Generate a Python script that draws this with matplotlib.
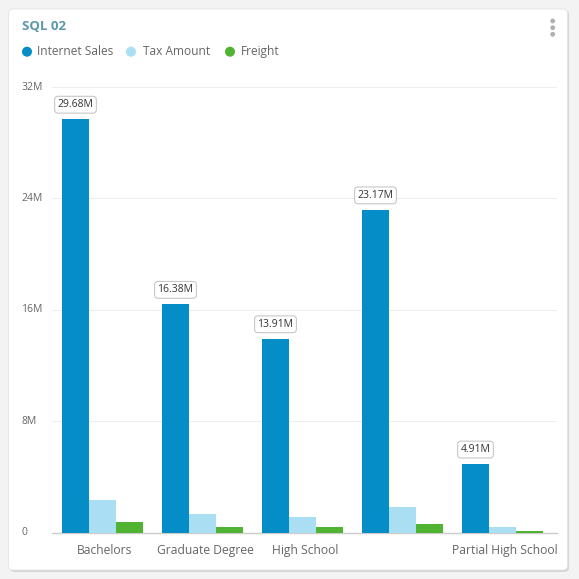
import matplotlib.pyplot as plt
import matplotlib.transforms as mtransforms
from matplotlib.patches import FancyBboxPatch
import numpy as np

plt.rcParams['font.family'] = ['Open Sans', 'DejaVu Sans']

# Data (values in millions)
tick_labels = ["Bachelors", "Graduate Degree", "High School", "", "Partial High School"]
internet_sales = [29.68, 16.38, 13.91, 23.17, 4.91]
tax_amount = [2.37, 1.31, 1.11, 1.85, 0.39]
freight = [0.76, 0.42, 0.36, 0.60, 0.13]
series_names = ["Internet Sales", "Tax Amount", "Freight"]
series_colors = ["#058dc7", "#aadff3", "#50b432"]
y_ticks = [0, 8, 16, 24, 32]
y_tick_labels = ["0", "8M", "16M", "24M", "32M"]

W = H = 579
fig = plt.figure(figsize=(W / 100, H / 100), dpi=100)
fig.patch.set_facecolor("#f3f3f3")


def fx(px):
    return px / W


def fy(py):
    return 1 - py / H


# card with soft shadow
shadow = FancyBboxPatch((fx(10), fy(572)), fx(559), fx(562),
                        boxstyle="round,pad=0,rounding_size=0.008",
                        transform=fig.transFigure, facecolor="#d6d6d6",
                        edgecolor="none", zorder=-2)
card = FancyBboxPatch((fx(8.5), fy(570)), fx(559), fx(561),
                      boxstyle="round,pad=0,rounding_size=0.008",
                      transform=fig.transFigure, facecolor="white",
                      edgecolor="#e4e4e4", linewidth=0.6, zorder=-1)
fig.patches.extend([shadow, card])

# title and menu dots
fig.text(fx(22), fy(27), "SQL 02", color="#5a9aa8", fontsize=9.5,
         fontweight="bold", ha="left", va="center")
for py in (21, 27.7, 34.3):
    fig.patches.append(plt.Circle((fx(552.7), fy(py)), fx(1.7),
                                  transform=fig.transFigure,
                                  color="#b0b0b0", zorder=2))

# legend
legend_items = [(27, 37), (131, 143), (230, 241)]
for (cx, tx), name, col in zip(legend_items, series_names, series_colors):
    fig.patches.append(plt.Circle((fx(cx), fy(51.7)), fx(4.3),
                                  transform=fig.transFigure, color=col, zorder=2))
    fig.text(fx(tx), fy(51.2), name, color="#666666", fontsize=8.6,
             ha="left", va="center")

ax = fig.add_axes([fx(52), fy(532.5), fx(557 - 52), fy(87) - fy(532.5)])
ax.set_facecolor("none")

x = np.arange(len(tick_labels))
bw = 0.27
for i, (vals, col) in enumerate(zip([internet_sales, tax_amount, freight], series_colors)):
    ax.bar(x + (i - 1) * bw, vals, width=bw, color=col, linewidth=0, zorder=3)

# data labels on the Internet Sales bars
for xi, v in zip(x, internet_sales):
    ax.annotate(f"{v:.2f}M", (xi - bw, v), xytext=(0, 10.5),
                textcoords="offset points", ha="center", va="center",
                fontsize=7.5, color="#333333", zorder=5,
                bbox=dict(boxstyle="round,pad=0.28,rounding_size=0.35",
                          facecolor="white", edgecolor="#c8c8c8", linewidth=0.8))

ax.set_xlim(-0.505, 4.545)
ax.set_ylim(0, 32)
ax.set_yticks(y_ticks)
ax.set_yticklabels([])
ax.tick_params(axis="y", length=0)
ax.tick_params(axis="x", length=0, pad=8, colors="#666666", labelsize=8.7)
ax.set_xticks(x)
ax.set_xticklabels(tick_labels)
# category labels sit a few pixels right of the group centre in the reference
shift = mtransforms.ScaledTranslation(2.5 / 100, 0, fig.dpi_scale_trans)
for lbl in ax.get_xticklabels():
    lbl.set_transform(lbl.get_transform() + shift)
ax.grid(True, axis="y", color="#eeeeee", linewidth=0.8, zorder=0)
for side in ("top", "right", "left"):
    ax.spines[side].set_visible(False)
ax.spines["bottom"].set_color("#cccccc")
ax.spines["bottom"].set_linewidth(1)

# y labels are left aligned at the card edge
ylab_trans = mtransforms.blended_transform_factory(fig.transFigure, ax.transData)
for t, lab in zip(y_ticks, y_tick_labels):
    ax.text(fx(21), t, lab, transform=ylab_trans, ha="left", va="center",
            fontsize=7.5, color="#666666")

fig.savefig("out.png", dpi=100, facecolor=fig.get_facecolor())
